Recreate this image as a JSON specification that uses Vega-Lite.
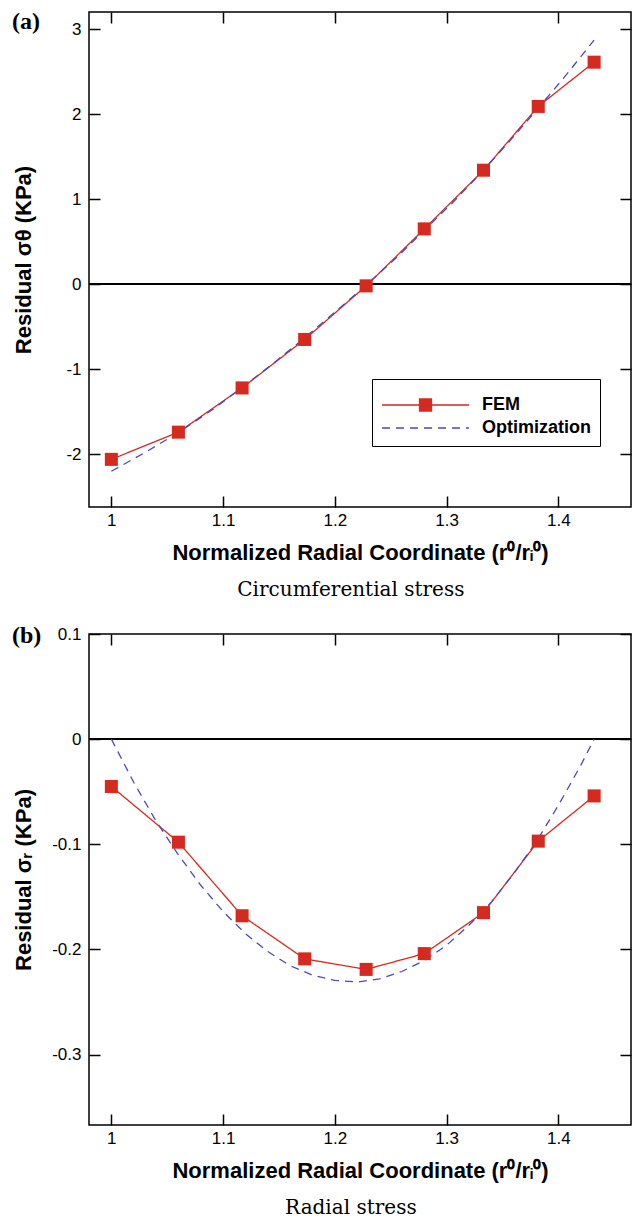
{
  "$schema": "https://vega.github.io/schema/vega-lite/v6.json",
  "padding": {"left": 11, "top": 9, "right": 2, "bottom": 5},
  "background": "white",
  "spacing": 23,
  "datasets": {
    "a": [
      {"series": "FEM", "x": 1.0, "y": -2.06},
      {"series": "FEM", "x": 1.06, "y": -1.74},
      {"series": "FEM", "x": 1.117, "y": -1.22},
      {"series": "FEM", "x": 1.173, "y": -0.65},
      {"series": "FEM", "x": 1.228, "y": -0.02},
      {"series": "FEM", "x": 1.28, "y": 0.65},
      {"series": "FEM", "x": 1.333, "y": 1.34},
      {"series": "FEM", "x": 1.382, "y": 2.09},
      {"series": "FEM", "x": 1.432, "y": 2.61},
      {"series": "Optimization", "x": 1.0, "y": -2.2},
      {"series": "Optimization", "x": 1.03, "y": -1.98},
      {"series": "Optimization", "x": 1.06, "y": -1.745},
      {"series": "Optimization", "x": 1.09, "y": -1.48},
      {"series": "Optimization", "x": 1.117, "y": -1.215},
      {"series": "Optimization", "x": 1.145, "y": -0.93},
      {"series": "Optimization", "x": 1.173, "y": -0.63},
      {"series": "Optimization", "x": 1.2, "y": -0.33},
      {"series": "Optimization", "x": 1.228, "y": -0.01},
      {"series": "Optimization", "x": 1.255, "y": 0.31},
      {"series": "Optimization", "x": 1.28, "y": 0.635},
      {"series": "Optimization", "x": 1.307, "y": 0.98},
      {"series": "Optimization", "x": 1.333, "y": 1.34},
      {"series": "Optimization", "x": 1.357, "y": 1.69},
      {"series": "Optimization", "x": 1.382, "y": 2.07},
      {"series": "Optimization", "x": 1.407, "y": 2.46},
      {"series": "Optimization", "x": 1.432, "y": 2.87}
    ],
    "b": [
      {"series": "FEM", "x": 1.0, "y": -0.045},
      {"series": "FEM", "x": 1.06, "y": -0.098},
      {"series": "FEM", "x": 1.117, "y": -0.168},
      {"series": "FEM", "x": 1.173, "y": -0.209},
      {"series": "FEM", "x": 1.228, "y": -0.219},
      {"series": "FEM", "x": 1.28, "y": -0.204},
      {"series": "FEM", "x": 1.333, "y": -0.165},
      {"series": "FEM", "x": 1.382, "y": -0.097},
      {"series": "FEM", "x": 1.432, "y": -0.054},
      {"series": "Optimization", "x": 1.0, "y": 0.0},
      {"series": "Optimization", "x": 1.02, "y": -0.041},
      {"series": "Optimization", "x": 1.04, "y": -0.078},
      {"series": "Optimization", "x": 1.06, "y": -0.11},
      {"series": "Optimization", "x": 1.08, "y": -0.139},
      {"series": "Optimization", "x": 1.1, "y": -0.164},
      {"series": "Optimization", "x": 1.12, "y": -0.185},
      {"series": "Optimization", "x": 1.14, "y": -0.202},
      {"series": "Optimization", "x": 1.16, "y": -0.2155},
      {"series": "Optimization", "x": 1.18, "y": -0.2245},
      {"series": "Optimization", "x": 1.2, "y": -0.2295},
      {"series": "Optimization", "x": 1.22, "y": -0.231},
      {"series": "Optimization", "x": 1.24, "y": -0.228},
      {"series": "Optimization", "x": 1.26, "y": -0.221},
      {"series": "Optimization", "x": 1.28, "y": -0.2105},
      {"series": "Optimization", "x": 1.3, "y": -0.196},
      {"series": "Optimization", "x": 1.32, "y": -0.177},
      {"series": "Optimization", "x": 1.34, "y": -0.155},
      {"series": "Optimization", "x": 1.36, "y": -0.128},
      {"series": "Optimization", "x": 1.38, "y": -0.098},
      {"series": "Optimization", "x": 1.4, "y": -0.063},
      {"series": "Optimization", "x": 1.42, "y": -0.025},
      {"series": "Optimization", "x": 1.432, "y": 0.0}
    ]
  },
  "vconcat": [
    {
      "title": {"text": "Circumferential stress", "orient": "bottom", "anchor": "middle", "dx": 29, "font": "DejaVu Serif", "fontSize": 20, "fontWeight": "normal", "color": "black", "offset": 16},
      "vconcat": [
        {
          "width": 542,
          "height": 495,
          "title": {"text": "(a)", "anchor": "start", "frame": "group", "dx": -77, "offset": -23, "baseline": "top", "font": "Liberation Serif", "fontSize": 24, "fontWeight": "bold", "color": "black"},
          "data": {"name": "a"},
          "layer": [
            {
              "mark": {"type": "rule", "color": "black", "strokeWidth": 1.5},
              "encoding": {"y": {"datum": 0, "type": "quantitative", "axis": null}}
            },
            {
              "mark": {"type": "line", "strokeWidth": 1.3},
              "encoding": {
                "x": {"field": "x", "type": "quantitative", "scale": {"domain": [0.98, 1.465], "nice": false, "zero": false}, "axis": {"orient": "bottom", "values": [1, 1.1, 1.2, 1.3, 1.4], "title": "Normalized Radial Coordinate (r⁰/rᵢ⁰)", "titlePadding": 14, "labelPadding": 5}},
                "y": {"field": "y", "type": "quantitative", "scale": {"domain": [-2.62, 3.2], "nice": false, "zero": false}, "axis": {"orient": "left", "values": [-2, -1, 0, 1, 2, 3], "title": "Residual σθ (KPa)", "titleX": -77, "titleBaseline": "middle", "labelPadding": 8}},
                "color": {"field": "series", "type": "nominal", "scale": {"domain": ["FEM", "Optimization"], "range": ["#d42a20", "#4a4ab8"]},
                  "legend": {"orient": "none", "legendX": 283, "legendY": 367, "title": " ", "titleFontSize": 8, "titlePadding": 0, "fillColor": "white", "strokeColor": "black", "padding": 9, "symbolSize": 7569, "clipHeight": 18, "symbolType": "stroke", "symbolStrokeWidth": 1.3, "labelFont": "Liberation Sans", "labelFontSize": 18, "labelFontWeight": "bold", "labelColor": "black", "rowPadding": 5, "labelOffset": 12,
                    "encode": {"symbols": {"update": {"shape": {"signal": "datum.value === 'FEM' ? 'M-1,0H1M-0.138,-0.138H0.138V0.138H-0.138Z' : 'stroke'"}, "fill": {"signal": "datum.value === 'FEM' ? '#d42a20' : 'transparent'"}}}}}},
                "strokeDash": {"field": "series", "type": "nominal", "scale": {"domain": ["FEM", "Optimization"], "range": [[1, 0], [8, 6]]}}
              }
            },
            {
              "transform": [{"filter": "datum.series === 'FEM'"}],
              "mark": {"type": "point", "shape": "square", "filled": true, "size": 170, "color": "#d42a20", "opacity": 1},
              "encoding": {
                "x": {"field": "x", "type": "quantitative", "axis": {"orient": "top", "values": [1, 1.1, 1.2, 1.3, 1.4], "labels": false, "title": null}},
                "y": {"field": "y", "type": "quantitative", "axis": {"orient": "right", "values": [-2, -1, 0, 1, 2, 3], "labels": false, "title": null}}
              }
            }
          ],
          "resolve": {"axis": {"x": "independent", "y": "independent"}}
        }
      ]
    },
    {
      "title": {"text": "Radial stress", "orient": "bottom", "anchor": "middle", "dx": 29, "font": "DejaVu Serif", "fontSize": 20, "fontWeight": "normal", "color": "black", "offset": 16},
      "vconcat": [
        {
          "width": 542,
          "height": 491,
          "title": {"text": "(b)", "anchor": "start", "frame": "group", "dx": -77, "offset": -23, "baseline": "top", "font": "Liberation Serif", "fontSize": 24, "fontWeight": "bold", "color": "black"},
          "data": {"name": "b"},
          "layer": [
            {
              "mark": {"type": "rule", "color": "black", "strokeWidth": 1.5},
              "encoding": {"y": {"datum": 0, "type": "quantitative", "axis": null}}
            },
            {
              "mark": {"type": "line", "strokeWidth": 1.3},
              "encoding": {
                "x": {"field": "x", "type": "quantitative", "scale": {"domain": [0.98, 1.465], "nice": false, "zero": false}, "axis": {"orient": "bottom", "values": [1, 1.1, 1.2, 1.3, 1.4], "title": "Normalized Radial Coordinate (r⁰/rᵢ⁰)", "titlePadding": 14, "labelPadding": 5}},
                "y": {"field": "y", "type": "quantitative", "scale": {"domain": [-0.367, 0.1], "nice": false, "zero": false}, "axis": {"orient": "left", "values": [-0.3, -0.2, -0.1, 0, 0.1], "title": "Residual σᵣ (KPa)", "titleX": -77, "titleBaseline": "middle", "labelPadding": 8}},
                "color": {"field": "series", "type": "nominal", "scale": {"domain": ["FEM", "Optimization"], "range": ["#d42a20", "#4a4ab8"]},
                  "legend": {"orient": "none", "legendX": 283, "legendY": 367, "title": " ", "titleFontSize": 8, "titlePadding": 0, "fillColor": "white", "strokeColor": "black", "padding": 9, "symbolSize": 7569, "clipHeight": 18, "symbolType": "stroke", "symbolStrokeWidth": 1.3, "labelFont": "Liberation Sans", "labelFontSize": 18, "labelFontWeight": "bold", "labelColor": "black", "rowPadding": 5, "labelOffset": 12,
                    "encode": {"symbols": {"update": {"shape": {"signal": "datum.value === 'FEM' ? 'M-1,0H1M-0.138,-0.138H0.138V0.138H-0.138Z' : 'stroke'"}, "fill": {"signal": "datum.value === 'FEM' ? '#d42a20' : 'transparent'"}}}}}},
                "strokeDash": {"field": "series", "type": "nominal", "scale": {"domain": ["FEM", "Optimization"], "range": [[1, 0], [8, 6]]}}
              }
            },
            {
              "transform": [{"filter": "datum.series === 'FEM'"}],
              "mark": {"type": "point", "shape": "square", "filled": true, "size": 170, "color": "#d42a20", "opacity": 1},
              "encoding": {
                "x": {"field": "x", "type": "quantitative", "axis": {"orient": "top", "values": [1, 1.1, 1.2, 1.3, 1.4], "labels": false, "title": null}},
                "y": {"field": "y", "type": "quantitative", "axis": {"orient": "right", "values": [-0.3, -0.2, -0.1, 0, 0.1], "labels": false, "title": null}}
              }
            }
          ],
          "resolve": {"axis": {"x": "independent", "y": "independent"}}
        }
      ]
    }
  ],
  "config": {
    "view": {"stroke": "black", "strokeWidth": 1.5},
    "axis": {"domain": false, "ticks": true, "zindex": 1, "offset": -11, "tickColor": "#000000", "tickOpacity": 1, "tickWidth": 1.5, "tickSize": 11, "labelExpr": "'' + datum.value", "labelFont": "Liberation Sans", "labelFontSize": 17, "labelColor": "black", "titleFont": "Liberation Sans", "titleFontSize": 22, "titleFontWeight": "bold", "titleColor": "black", "grid": false}
  }
}
